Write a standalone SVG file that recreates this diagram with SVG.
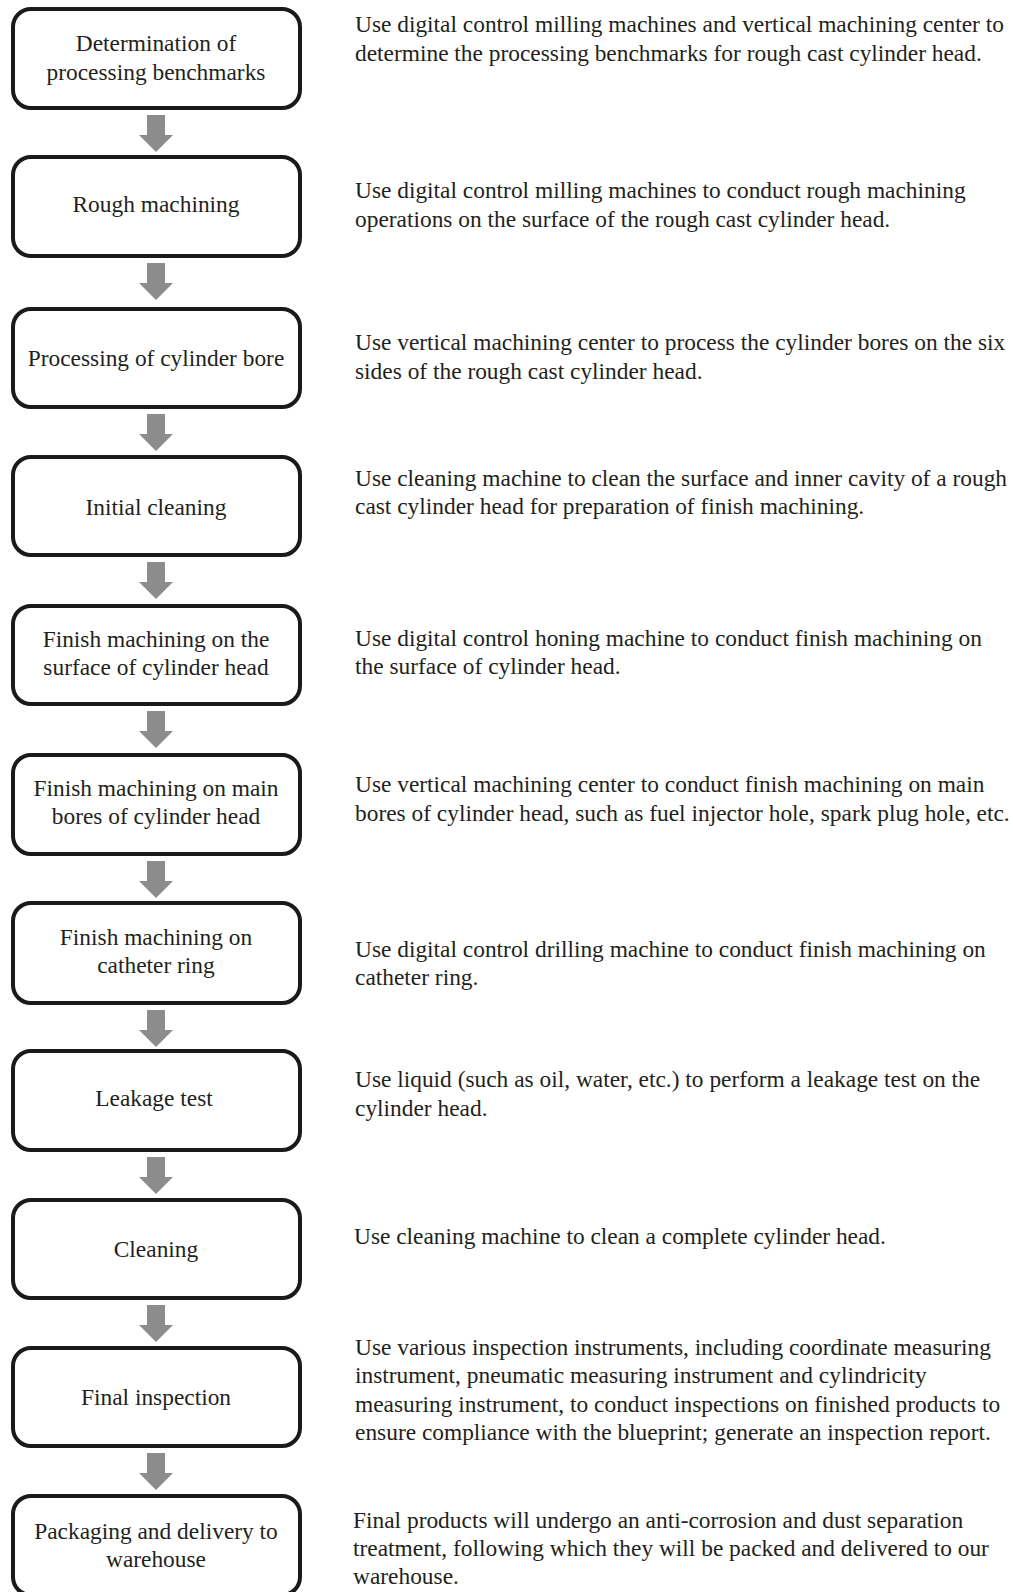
<svg xmlns="http://www.w3.org/2000/svg" width="1013" height="1592" viewBox="0 0 1013 1592">
<style>
.box{fill:#fff;stroke:#1a1a1a;stroke-width:4}
.t{font-family:"Liberation Serif","Times New Roman",serif;font-size:23.4px;fill:#231f20}
.c{text-anchor:middle}
.arrow{fill:#8c8c8c}
</style>
<defs>
<path id="arr" d="M-9,0 H9 V20 H17 L0,37 L-17,20 H-9 Z"/>
</defs>
<rect width="1013" height="1592" fill="#fff"/>
<g id="connectors" class="arrow">
<use href="#arr" x="156" y="115"/>
<use href="#arr" x="156" y="263"/>
<use href="#arr" x="156" y="414"/>
<use href="#arr" x="156" y="562"/>
<use href="#arr" x="156" y="711"/>
<use href="#arr" x="156" y="861"/>
<use href="#arr" x="156" y="1010"/>
<use href="#arr" x="156" y="1157"/>
<use href="#arr" x="156" y="1305"/>
<use href="#arr" x="156" y="1453"/>
</g>
<g id="n1"><rect class="box" x="13" y="9" width="287" height="99" rx="18"/>
<text class="t c" x="156" y="51">Determination of</text><text class="t c" x="156" y="79.5">processing benchmarks</text></g>
<g id="n2"><rect class="box" x="13" y="157" width="287" height="99" rx="18"/>
<text class="t c" x="156" y="212">Rough machining</text></g>
<g id="n3"><rect class="box" x="13" y="309" width="287" height="98" rx="18"/>
<text class="t c" x="156" y="366">Processing of cylinder bore</text></g>
<g id="n4"><rect class="box" x="13" y="457" width="287" height="98" rx="18"/>
<text class="t c" x="156" y="515">Initial cleaning</text></g>
<g id="n5"><rect class="box" x="13" y="606" width="287" height="98" rx="18"/>
<text class="t c" x="156" y="647">Finish machining on the</text><text class="t c" x="156" y="675">surface of cylinder head</text></g>
<g id="n6"><rect class="box" x="13" y="755" width="287" height="99" rx="18"/>
<text class="t c" x="156" y="796">Finish machining on main</text><text class="t c" x="156" y="824">bores of cylinder head</text></g>
<g id="n7"><rect class="box" x="13" y="903" width="287" height="100" rx="18"/>
<text class="t c" x="156" y="945">Finish machining on</text><text class="t c" x="156" y="973">catheter ring</text></g>
<g id="n8"><rect class="box" x="13" y="1051" width="287" height="99" rx="18"/>
<text class="t c" x="154" y="1106">Leakage test</text></g>
<g id="n9"><rect class="box" x="13" y="1200" width="287" height="98" rx="18"/>
<text class="t c" x="156" y="1257">Cleaning</text></g>
<g id="n10"><rect class="box" x="13" y="1348" width="287" height="98" rx="18"/>
<text class="t c" x="156" y="1405">Final inspection</text></g>
<g id="n11"><rect class="box" x="13" y="1496" width="287" height="99" rx="18"/>
<text class="t c" x="156" y="1539">Packaging and delivery to</text><text class="t c" x="156" y="1567">warehouse</text></g>
<g id="descriptions">
<text class="t" x="355" y="32">Use digital control milling machines and vertical machining center to</text>
<text class="t" x="355" y="61">determine the processing benchmarks for rough cast cylinder head.</text>
<text class="t" x="355" y="198">Use digital control milling machines to conduct rough machining</text>
<text class="t" x="355" y="227">operations on the surface of the rough cast cylinder head.</text>
<text class="t" x="355" y="350">Use vertical machining center to process the cylinder bores on the six</text>
<text class="t" x="355" y="379">sides of the rough cast cylinder head.</text>
<text class="t" x="355" y="486">Use cleaning machine to clean the surface and inner cavity of a rough</text>
<text class="t" x="355" y="514">cast cylinder head for preparation of finish machining.</text>
<text class="t" x="355" y="646">Use digital control honing machine to conduct finish machining on</text>
<text class="t" x="355" y="674">the surface of cylinder head.</text>
<text class="t" x="355" y="792">Use vertical machining center to conduct finish machining on main</text>
<text class="t" x="355" y="821">bores of cylinder head, such as fuel injector hole, spark plug hole, etc.</text>
<text class="t" x="355" y="957">Use digital control drilling machine to conduct finish machining on</text>
<text class="t" x="355" y="985">catheter ring.</text>
<text class="t" x="355" y="1087">Use liquid (such as oil, water, etc.) to perform a leakage test on the</text>
<text class="t" x="355" y="1116">cylinder head.</text>
<text class="t" x="354" y="1244">Use cleaning machine to clean a complete cylinder head.</text>
<text class="t" x="355" y="1355">Use various inspection instruments, including coordinate measuring</text>
<text class="t" x="355" y="1383">instrument, pneumatic measuring instrument and cylindricity</text>
<text class="t" x="355" y="1412">measuring instrument, to conduct inspections on finished products to</text>
<text class="t" x="355" y="1440">ensure compliance with the blueprint; generate an inspection report.</text>
<text class="t" x="353" y="1528">Final products will undergo an anti-corrosion and dust separation</text>
<text class="t" x="353" y="1556">treatment, following which they will be packed and delivered to our</text>
<text class="t" x="353" y="1584">warehouse.</text>
</g>
</svg>
